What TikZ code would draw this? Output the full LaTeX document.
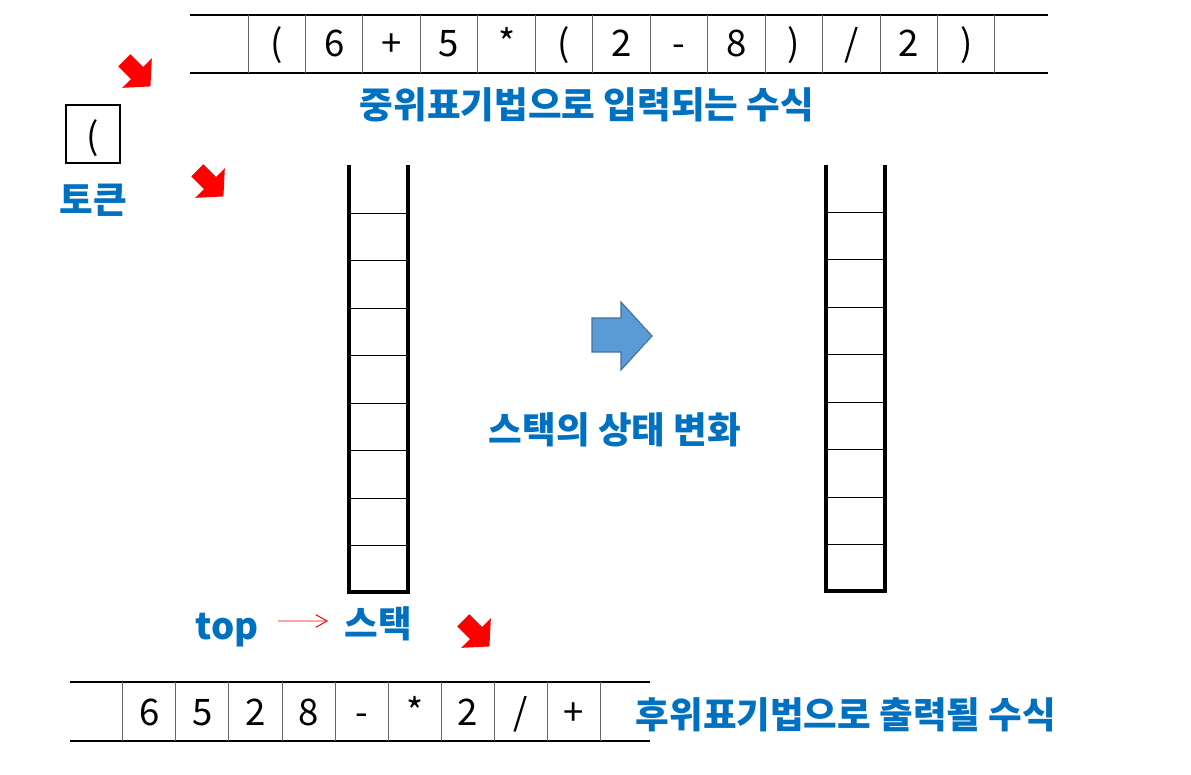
\documentclass[tikz,border=0pt]{standalone}
\usepackage{fontspec}
\setmainfont{Noto Sans CJK KR}
\usepackage{tikz}
\usetikzlibrary{arrows.meta, positioning}
\definecolor{lblue}{HTML}{0070C0}
\definecolor{arrowfill}{HTML}{5B9BD5}
\definecolor{arrowline}{HTML}{41719C}

\begin{document}
\begin{tikzpicture}[x=0.025cm, y=-0.025cm,
  lbl/.style={text=lblue, font=\bfseries\fontsize{26}{29}\selectfont, inner sep=0pt},
  tok/.style={anchor=base, font=\fontsize{26}{28}\selectfont, inner sep=0pt},
  rowline/.style={black, line width=1.4pt},
  cellsep/.style={black!60, line width=0.7pt},
  stackside/.style={black, line width=2.8pt},
  redline/.style={red, line width=0.7pt, -{Straight Barb[length=8pt, width=9pt]}},
  redarr/.pic={\fill[red, rotate=-45] (-18,-8.5) -- (0,-8.5) -- (0,-21) -- (19,0) -- (0,21) -- (0,8.5) -- (-18,8.5) -- cycle;}]
\useasboundingbox (0,0) rectangle (1191,775);
% infix input
\draw [rowline] (190,15) -- (1048,15);
\draw [rowline] (190,73) -- (1048,73);
\foreach \i in {0,...,13}
  \draw [cellsep] (248+57.46*\i,15) -- (248+57.46*\i,73);
\foreach \t [count=\i] in {{(},6,+,5,*,{(},2,-,8,{)},/,2,{)}}
  \node [tok] (in\i) at (219.27+57.46*\i,57) {\t};
\node [lbl] (infix) at (587,105) {중위표기법으로 입력되는 수식};
% token
\draw [black, line width=0.8pt] (66,105) rectangle (120,163);
\node [tok] (tokch) at (93,149) {(};
\node [lbl] (token) at (93,200) {토큰};
\pic at (137,73) {redarr};
\pic at (210,183) {redarr};
\pic at (476,633) {redarr};
% stack
\draw [stackside] (349,165) -- (349,592) -- (408,592) -- (408,165);
\foreach \y in {213,260,308,355,403,450,498,545}
  \draw [black, line width=0.6pt] (349,\y) -- (408,\y);
\node [lbl] (stk) at (378,624) {스택};
\node [lbl] (top) at (227,630) {top};
\draw [redline] ([xshift=1.275cm, yshift=0.225cm]top.center) -- ([xshift=-1.25cm, yshift=0.075cm]stk.center);
% state change
\draw [arrowline, fill=arrowfill, line width=0.8pt] (592,318) -- (621,318) -- (621,302) -- (652,336) -- (621,370) -- (621,352) -- (592,352) -- cycle;
\node [lbl] (change) at (615,430) {스택의 상태 변화};
\draw [stackside] (826,165) -- (826,591) -- (885,591) -- (885,165);
\foreach \y in {212,259,307,354,402,449,497,544}
  \draw [black, line width=0.6pt] (826,\y) -- (885,\y);
% postfix output
\draw [rowline] (70,682) -- (650,682);
\draw [rowline] (70,741) -- (650,741);
\foreach \i in {0,...,9}
  \draw [cellsep] (122.7+53.1*\i,682) -- (122.7+53.1*\i,741);
\foreach \t [count=\i] in {6,5,2,8,-,*,2,/,+}
  \node [tok] (out\i) at (96.15+53.1*\i,725) {\t};
\node [lbl] (postfix) at (846,715) {후위표기법으로 출력될 수식};
\end{tikzpicture}
\end{document}
